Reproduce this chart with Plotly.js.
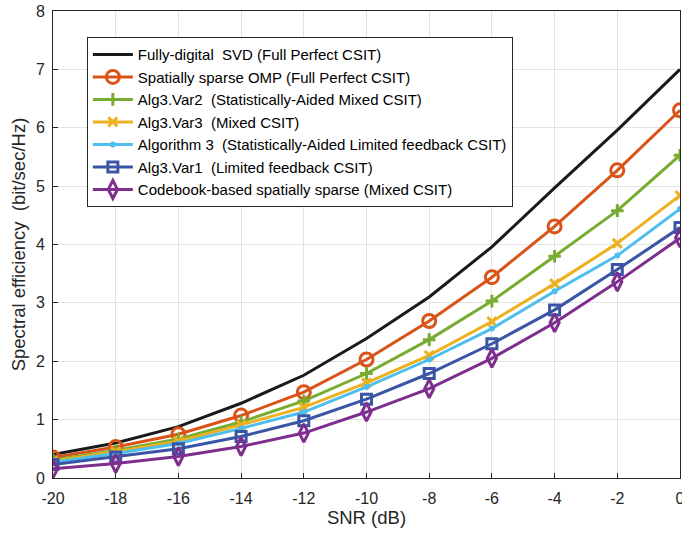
<!DOCTYPE html>
<html><head><meta charset="utf-8">
<script src="https://cdn.plot.ly/plotly-3.0.1.min.js"></script>
<style>body{margin:0;background:#fff}#c{width:682px;height:533px}</style>
</head><body><div id="c"></div>
<script>
const snr = [-20,-18,-16,-14,-12,-10,-8,-6,-4,-2,0];
const svd    = [0.40,0.60,0.88,1.28,1.76,2.39,3.10,3.96,4.97,5.96,7.00];
const omp    = [0.35,0.53,0.75,1.07,1.47,2.03,2.69,3.44,4.31,5.27,6.30];
const var2   = [0.31,0.47,0.67,0.96,1.32,1.79,2.37,3.03,3.80,4.58,5.53];
const var3   = [0.29,0.45,0.63,0.91,1.21,1.63,2.10,2.68,3.33,4.02,4.84];
const alg3   = [0.27,0.42,0.59,0.85,1.13,1.56,2.03,2.56,3.20,3.81,4.61];
const var1   = [0.23,0.36,0.50,0.71,0.98,1.35,1.79,2.30,2.88,3.57,4.29];
const cbook  = [0.16,0.25,0.37,0.54,0.77,1.13,1.53,2.05,2.66,3.36,4.11];
const names = [
 'Fully-digital\u00a0 SVD (Full Perfect CSIT)',
 'Spatially sparse OMP (Full Perfect CSIT)',
 'Alg3.Var2\u00a0 (Statistically-Aided Mixed CSIT)',
 'Alg3.Var3\u00a0 (Mixed CSIT)',
 'Algorithm 3\u00a0 (Statistically-Aided Limited feedback CSIT)',
 'Alg3.Var1\u00a0 (Limited feedback CSIT)',
 'Codebook-based spatially sparse (Mixed CSIT)'
];
const series = [svd, omp, var2, var3, alg3, var1, cbook];
const colors = ['#1a1a1a','#D95319','#77AC30','#EDB120','#4DBEEE','#3A55A6','#7E2F8E'];
const symbols = [null,'circle-open','cross-thin-open','x-thin-open','circle','square-open','diamond-tall-open'];
const sizes = [0,13,9,9,6,10,13];
const traces = series.map((y,i)=>{
  const t = {x:snr, y:y, name:names[i], type:'scatter',
    mode: i===0?'lines':'lines+markers',
    line:{color:colors[i], width:3}};
  if(i>0) t.marker = {symbol:symbols[i], size:sizes[i], color:colors[i], line:{color:colors[i], width: i===4?0:3}};
  return t;
});
const FONT = 'Liberation Sans, Arial, sans-serif';
const axcommon = {showline:true, mirror:true, linecolor:'#262626', linewidth:1, ticks:'inside', ticklen:5,
  tickcolor:'#262626', showgrid:true, gridcolor:'#e3e3e3', gridwidth:1, zeroline:false,
  ticklabeloverflow:'allow',
  tickfont:{family:FONT, size:16, color:'#262626'}};
const layout = {
  width:682, height:533, paper_bgcolor:'#fff', plot_bgcolor:'#fff',
  margin:{l:53, r:2, t:11, b:55},
  xaxis:Object.assign({}, axcommon, {range:[-20,0], tickvals:snr, ticktext:snr.map(String), ticklabelstandoff:6,
    title:{text:'SNR (dB)', font:{family:FONT, size:18.5, color:'#262626'}, standoff:4}}),
  yaxis:Object.assign({}, axcommon, {range:[0,8], dtick:1, ticklabelstandoff:4,
    title:{text:'Spectral efficiency\u00a0 (bit/sec/Hz)', font:{family:FONT, size:18.5, color:'#262626'}, standoff:5}}),
  showlegend:true,
  legend:{x:0.054, y:0.944, xanchor:'left', yanchor:'top', bgcolor:'#fff', bordercolor:'#262626', borderwidth:1,
    font:{family:FONT, size:15, color:'#000'}, tracegroupgap:0, itemwidth:40}
};
Plotly.newPlot('c', traces, layout, {displayModeBar:false, staticPlot:true});
</script></body></html>
